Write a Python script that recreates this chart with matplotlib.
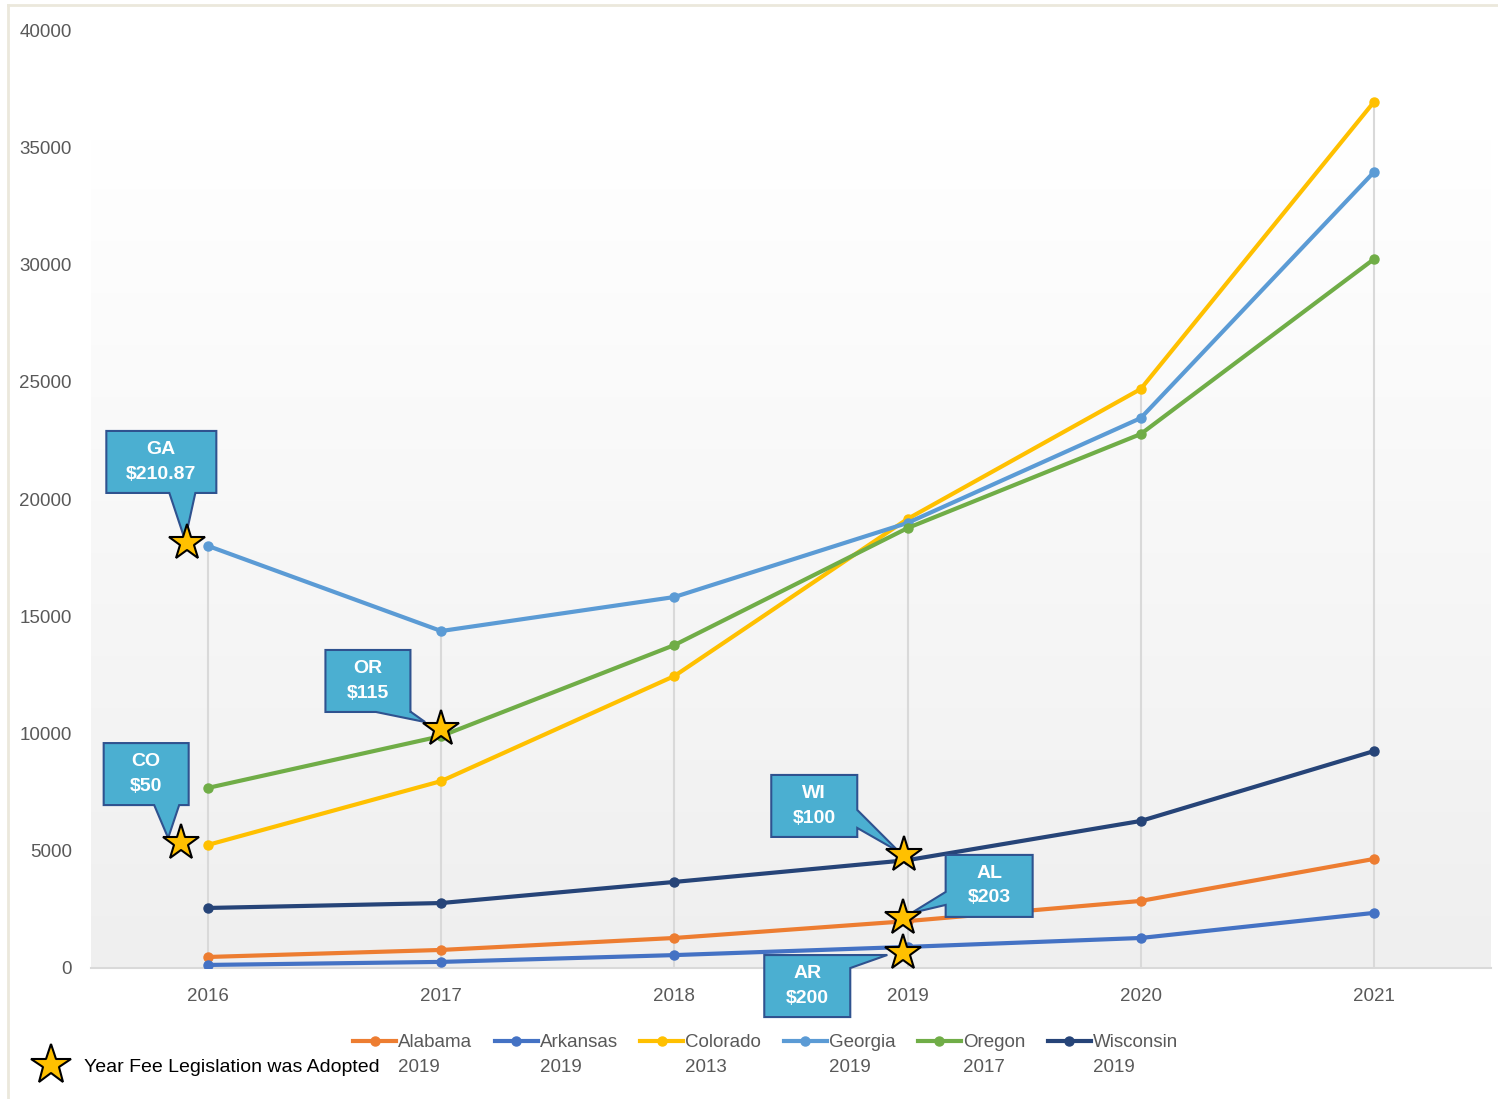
import numpy as np
import matplotlib
matplotlib.use("Agg")
import matplotlib.pyplot as plt
from matplotlib.lines import Line2D
from matplotlib.patches import Polygon
from matplotlib.transforms import IdentityTransform

plt.rcParams['font.family'] = ['Liberation Sans', 'DejaVu Sans']

years = [2016, 2017, 2018, 2019, 2020, 2021]
states = ["Alabama", "Arkansas", "Colorado", "Georgia", "Oregon", "Wisconsin"]
adopted = ["2019", "2019", "2013", "2019", "2017", "2019"]
colors = ["#ED7D31", "#4472C4", "#FFC000", "#5B9BD5", "#70AD47", "#264478"]

alabama = [470, 770, 1280, 2000, 2860, 4650]
arkansas = [130, 260, 550, 900, 1280, 2350]
colorado = [5250, 7970, 12450, 19150, 24690, 36930]
georgia = [18000, 14370, 15820, 18980, 23450, 33940]
oregon = [7680, 9890, 13770, 18760, 22770, 30230]
wisconsin = [2560, 2770, 3670, 4600, 6270, 9250]
series = [alabama, arkansas, colorado, georgia, oregon, wisconsin]

# callouts: label, fee, which series, year of adoption star
callout_labels = ["GA", "CO", "OR", "WI", "AL", "AR"]
callout_fees = ["$210.87", "$50", "$115", "$100", "$203", "$200"]
callout_series = [3, 2, 4, 5, 0, 1]
callout_years = [2016, 2016, 2017, 2019, 2019, 2019]
# star nudges (data units)
star_dx = [-0.09, -0.115, 0.0, -0.014, -0.018, -0.018]
star_dy = [124, 80, 300, 220, 130, -260]
# box centres (data units) and box widths (px)
box_x = [2015.80, 2015.735, 2016.686, 2018.60, 2019.35, 2018.57]
box_y = [21580, 8270, 12240, 6910, 3500, -770]
box_w = [110, 85, 85, 86, 87, 86]
# tail: side of box, base ends (px from box centre along the side), tip offset from star (px)
tail_side = ["bottom", "bottom", "bottom", "right", "left", "right"]
tail_a = [8, 8, 8, -22, -19, 18]
tail_b = [34, 33, 43, -4, -6, 31]
tip_dx = [-2, -13, -16, -5, 8, -16]
tip_dy = [3, 5, 7, 3, 5, -2]

fig = plt.figure(figsize=(14.98, 10.99), dpi=100)
ax = fig.add_axes([0.061, 0.1192, 0.934, 0.8535])

# gradient plot-area background
grad = np.linspace(0, 1, 256).reshape(-1, 1)
cmap = matplotlib.colors.LinearSegmentedColormap.from_list("g", ["#efefef", "#ffffff"])
ax.imshow(grad, extent=[2015.5, 2021.5, 0, 35400], origin="lower", cmap=cmap,
          aspect="auto", zorder=0)
ax.set_xlim(2015.5, 2021.5)
ax.set_ylim(0, 40000)

# drop lines from the highest value of each year
tops = np.max(np.array(series), axis=0)
ax.vlines(years, 0, tops, color="#d9d9d9", lw=1.5, zorder=1)

for name, vals, c in zip(states, series, colors):
    ax.plot(years, vals, color=c, lw=3, marker="o", ms=6.5, zorder=3,
            solid_capstyle="round")


def callout_points(cx, cy, w, h, side, a, b, tip):
    l, r, bt, t = cx - w / 2, cx + w / 2, cy - h / 2, cy + h / 2
    if side == "bottom":
        return [(l, bt), (cx + a, bt), tip, (cx + b, bt), (r, bt), (r, t), (l, t)]
    if side == "right":
        return [(l, bt), (r, bt), (r, cy + a), tip, (r, cy + b), (r, t), (l, t)]
    return [(l, bt), (r, bt), (r, t), (l, t), (l, cy + b), tip, (l, cy + a)]


fig.canvas.draw()
for i in range(len(callout_labels)):
    s = callout_series[i]
    yr = callout_years[i]
    sx = yr + star_dx[i]
    sy = series[s][years.index(yr)] + star_dy[i]
    cx, cy = ax.transData.transform((box_x[i], box_y[i]))
    px, py = ax.transData.transform((sx, sy))
    tip = (px + tip_dx[i], py + tip_dy[i])
    pts = callout_points(cx, cy, box_w[i], 62, tail_side[i], tail_a[i], tail_b[i], tip)
    poly = Polygon(pts, closed=True, fc="#4BAFD1", ec="#2F528F", lw=1.5,
                   transform=IdentityTransform(), zorder=5, clip_on=False)
    ax.add_artist(poly)
    ax.text(box_x[i], box_y[i], callout_labels[i] + "\n" + callout_fees[i],
            ha="center", va="center", fontsize=14, fontweight="bold",
            color="white", linespacing=1.55, zorder=6, clip_on=False)
    ax.plot(sx, sy, marker="*", ms=27, mfc="#FFC000", mec="black", mew=1.5,
            zorder=7, clip_on=False)

ax.set_xticks(years)
ax.set_xticklabels([str(y) for y in years])
ax.set_yticks(range(0, 40001, 5000))
ax.tick_params(length=0, labelsize=13.5, labelcolor="#595959")
ax.tick_params(axis="x", pad=14.5)
ax.tick_params(axis="y", pad=14)
for sp in ["top", "right", "left"]:
    ax.spines[sp].set_visible(False)
ax.spines["bottom"].set_color("#d9d9d9")
ax.spines["bottom"].set_linewidth(1.5)
ax.patch.set_visible(False)

# legend of series, two-line labels with handle on first line
handles = [Line2D([0], [0], color=c, lw=3, marker="o", ms=6.5) for c in colors]
labels = [s + "\n" + a for s, a in zip(states, adopted)]
leg = fig.legend(handles, labels, ncol=6, loc="center",
                 bbox_to_anchor=(0.511, 0.04), frameon=False, fontsize=13.5,
                 handlelength=2.3, handletextpad=0.1, columnspacing=1.2,
                 labelcolor="#595959", labelspacing=0.2)
for t in leg.get_texts():
    t.set_linespacing(1.55)
for col in leg._legend_handle_box.get_children():
    for item in col.get_children():
        item.align = "top"

star_h = [Line2D([0], [0], ls="none", marker="*", ms=30, mfc="#FFC000",
                 mec="black", mew=1.5)]
fig.legend(star_h, ["Year Fee Legislation was Adopted"], loc="center left",
           bbox_to_anchor=(0.012, 0.029), frameon=False, fontsize=14,
           handletextpad=0.9, handlelength=1.6, labelcolor="black")

# outer frame lines
fig.add_artist(Line2D([0.0055, 0.0055], [0, 0.995], color="#ebe8dc", lw=2,
                      transform=fig.transFigure))
fig.add_artist(Line2D([0.0055, 1], [0.995, 0.995], color="#ebe8dc", lw=2,
                      transform=fig.transFigure))

fig.savefig("out.png", dpi=100)
